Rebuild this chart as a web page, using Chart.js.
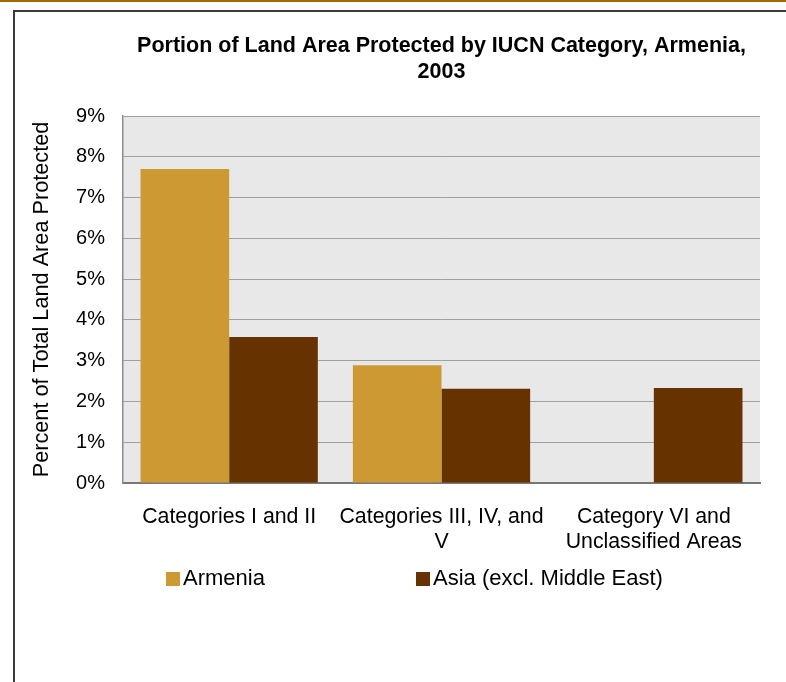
<!DOCTYPE html>
<html>
<head>
<meta charset="utf-8">
<script src="https://cdn.jsdelivr.net/npm/chart.js@4/dist/chart.umd.min.js"></script>
<style>
    html, body { margin: 0; padding: 0; background: #fff; overflow: hidden; }
    body { width: 786px; height: 682px; position: relative; font-family: "Liberation Sans", Arial, sans-serif; }
    .top-strip { position: absolute; left: 0; top: 0; width: 786px; height: 2px; background: #a06a00; }
    .frame { position: absolute; left: 13px; top: 10px; width: 900px; height: 800px; border: 2px solid #3a3a3a; }
    #chart { position: absolute; left: 0; top: 0; }
    .legend-item { position: absolute; top: 565px; height: 26px; line-height: 26px; font-size: 22px; color: #000; white-space: nowrap; }
    .legend-item .swatch { display: inline-block; width: 14px; height: 14px; vertical-align: -1px; margin-right: 3px; }
</style>
</head>
<body>
<div class="top-strip"></div>
<div class="frame"></div>
<canvas id="chart" width="786" height="682"></canvas>
<div id="legend"></div>

<script>
    const categories = [
        ['Categories I and II'],
        ['Categories III, IV, and', 'V'],
        ['Category VI and', 'Unclassified Areas'],
    ];
    const armenia = [7.7, 2.89, 0];
    const asiaExclMiddleEast = [3.58, 2.31, 2.33];
    const yTicks = [0, 1, 2, 3, 4, 5, 6, 7, 8, 9];

    const seriesNames = ['Armenia', 'Asia (excl. Middle East)'];
    const seriesColors = ['#cc9933', '#663300'];
    const legendLeft = [166, 416];

    const fontFamily = '"Liberation Sans", Arial, sans-serif';

    // Grey plot background like the original spreadsheet chart
    const plotBackground = {
        id: 'plotBackground',
        beforeDraw(chart) {
            const { ctx, chartArea } = chart;
            ctx.save();
            ctx.fillStyle = '#e8e8e8';
            ctx.fillRect(chartArea.left, chartArea.top, chartArea.right - chartArea.left, chartArea.bottom - chartArea.top);
            ctx.restore();
        },
    };

    const chart = new Chart(document.getElementById('chart'), {
        type: 'bar',
        data: {
            labels: categories,
            datasets: [
                { label: seriesNames[0], data: armenia, backgroundColor: seriesColors[0] },
                { label: seriesNames[1], data: asiaExclMiddleEast, backgroundColor: seriesColors[1] },
            ],
        },
        options: {
            responsive: false,
            animation: false,
            layout: { padding: { left: 0, right: 26, top: 0, bottom: 109 } },
            datasets: {
                bar: { categoryPercentage: 0.835, barPercentage: 1.0 },
            },
            scales: {
                x: {
                    grid: { display: false, drawTicks: false },
                    border: { color: '#777', width: 2 },
                    ticks: {
                        color: '#000',
                        padding: 22,
                        maxRotation: 0,
                        autoSkip: false,
                        font: { family: fontFamily, size: 21.3, lineHeight: 1.17 },
                    },
                    afterFit(scale) { scale.height = 90; },
                },
                y: {
                    min: 0,
                    max: 9,
                    afterBuildTicks(scale) { scale.ticks = yTicks.map(v => ({ value: v })); },
                    grid: { color: '#a0a0a0', lineWidth: 1, drawTicks: false },
                    border: { color: '#8c8c8c', width: 1.5 },
                    ticks: {
                        color: '#000',
                        padding: 18,
                        font: { family: fontFamily, size: 20 },
                        callback: v => v + '%',
                    },
                    title: {
                        display: true,
                        text: 'Percent of Total Land Area Protected',
                        color: '#000',
                        padding: { top: 29, bottom: 0 },
                        font: { family: fontFamily, size: 21.7 },
                    },
                    afterFit(scale) { scale.width = 123; },
                },
            },
            plugins: {
                legend: { display: false },
                tooltip: { enabled: false },
                title: {
                    display: true,
                    fullSize: false,
                    text: ['Portion of Land Area Protected by IUCN Category, Armenia,', '2003'],
                    color: '#000',
                    padding: { top: 33, bottom: 31 },
                    font: { family: fontFamily, size: 21.5, weight: 'bold', lineHeight: 1.21 },
                },
            },
        },
        plugins: [plotBackground],
    });

    // Legend laid out like the source: two items spread across the row
    const legendEl = document.getElementById('legend');
    chart.data.datasets.forEach((ds, i) => {
        const item = document.createElement('div');
        item.className = 'legend-item';
        item.style.left = legendLeft[i] + 'px';
        const swatch = document.createElement('span');
        swatch.className = 'swatch';
        swatch.style.background = ds.backgroundColor;
        item.appendChild(swatch);
        item.appendChild(document.createTextNode(ds.label));
        legendEl.appendChild(item);
    });
</script>
</body>
</html>
